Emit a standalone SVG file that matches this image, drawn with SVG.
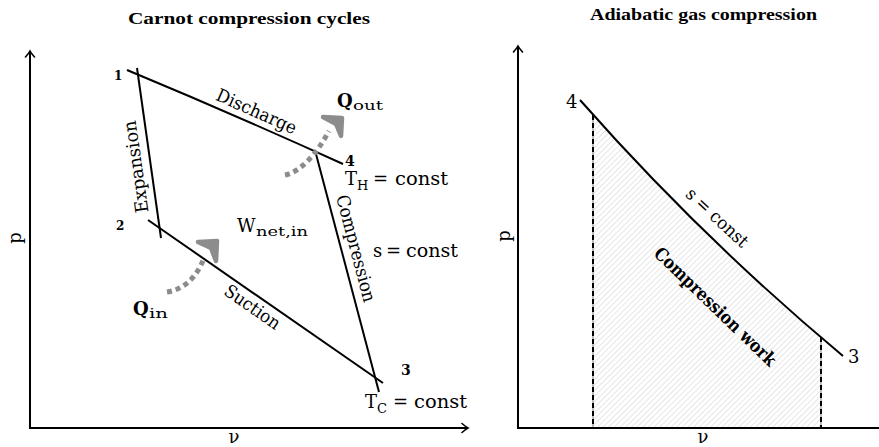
<svg xmlns="http://www.w3.org/2000/svg" width="879" height="447" viewBox="0 0 879 447">
<style>
text{font-family:"DejaVu Serif","Liberation Serif",serif;fill:#000}
.title{font-family:"Liberation Serif","DejaVu Serif",serif;font-weight:bold;font-size:17.5px}
.lbl{font-size:18px}
.sub{font-size:13px}
.num{font-weight:bold}
.axis{stroke:#000;stroke-width:2;fill:none}
.curve{stroke:#000;stroke-width:2;fill:none}
.heat{stroke:#8c8c8c;stroke-width:5;fill:none;stroke-dasharray:5 4}
.head{fill:#8c8c8c;stroke:#8c8c8c;stroke-width:4.5;stroke-linejoin:round}
.vd{stroke:#000;stroke-width:2;stroke-dasharray:5 3;fill:none}
.vg{stroke:#bdbdbd;stroke-width:2;fill:none}
</style>
<defs>
<marker id="ax" viewBox="-7 -6 9 12" markerWidth="9" markerHeight="12" refX="0" refY="0" orient="auto" markerUnits="userSpaceOnUse">
<path d="M-6,-4.5 Q-2,-1 0,0 Q-2,1 -6,4.5" fill="none" stroke="#000" stroke-width="1.6" stroke-linecap="round"/>
</marker>
<pattern id="hatch" patternUnits="userSpaceOnUse" width="4" height="4" patternTransform="rotate(45)">
<line x1="0" y1="0" x2="0" y2="4" stroke="#c8c8c8" stroke-width="0.9"/>
</pattern>
<clipPath id="under">
<path d="M580,100 Q701.7,238 843,356 L843,428 L580,428 Z"/>
</clipPath>
</defs>

<g id="left-plot">
<text class="title" x="128" y="24" textLength="242" lengthAdjust="spacingAndGlyphs">Carnot compression cycles</text>
<g id="left-axes">
<line class="axis" x1="30" y1="429" x2="30" y2="51" marker-end="url(#ax)"/>
<line class="axis" x1="29" y1="428" x2="468" y2="428" marker-end="url(#ax)"/>
<text class="lbl" transform="translate(21,238) rotate(-90)" text-anchor="middle">p</text>
<text class="lbl" x="234" y="443" text-anchor="middle">ν</text>
</g>
<g id="connectors">
<path id="discharge" class="curve" d="M127,70 Q233,114 343,164"/>
<path id="expansion" class="curve" d="M137,68 L161,238"/>
<path id="suction" class="curve" d="M148,220 L383,383"/>
<path id="compression" class="curve" d="M316,154 L379,392"/>
<path id="qin-arrow" class="heat" d="M167,292 C181,290 196,280 204,258"/>
<path class="head" d="M217,241 L198,242 L211,248 L216,261 Z"/>
<path id="qout-arrow" class="heat" d="M285,175 C300,172 316,155 329,131"/>
<path class="head" d="M342,118 L323,117 L336,124 L341,136 Z"/>
</g>
<g id="state-1"><text class="num" font-size="12" x="114" y="80">1</text></g>
<g id="state-2"><text class="num" font-size="12" x="116" y="230">2</text></g>
<g id="state-3"><text class="num" font-size="14" x="401" y="375">3</text></g>
<g id="state-4"><text class="num" font-size="14" x="345" y="166">4</text></g>
<g id="process-labels">
<text class="lbl" transform="translate(254,117) rotate(24)" text-anchor="middle" textLength="86" lengthAdjust="spacingAndGlyphs">Discharge</text>
<text class="lbl" transform="translate(142,166) rotate(-98)" text-anchor="middle" textLength="93" lengthAdjust="spacingAndGlyphs">Expansion</text>
<text class="lbl" transform="translate(350,250) rotate(75.2)" text-anchor="middle" textLength="110" lengthAdjust="spacingAndGlyphs">Compression</text>
<text class="lbl" transform="translate(249,312) rotate(34.7)" text-anchor="middle" textLength="64" lengthAdjust="spacingAndGlyphs">Suction</text>
</g>
<g id="quantities">
<text class="lbl" x="237" y="232">W</text>
<text class="sub" x="256" y="236" textLength="52" lengthAdjust="spacingAndGlyphs">net,in</text>
<text class="lbl" font-weight="bold" x="337" y="107">Q</text>
<text class="sub" x="353" y="110" textLength="30" lengthAdjust="spacingAndGlyphs">out</text>
<text class="lbl" font-weight="bold" x="133" y="315">Q</text>
<text class="sub" x="149" y="318" textLength="19" lengthAdjust="spacingAndGlyphs">in</text>
<text class="lbl" x="345" y="185">T</text>
<text class="sub" x="357" y="190">H</text>
<text class="lbl" x="373" y="185">=</text>
<text class="lbl" x="395" y="185" textLength="53" lengthAdjust="spacingAndGlyphs">const</text>
<text class="lbl" x="373" y="257">s</text>
<text class="lbl" x="386" y="257">=</text>
<text class="lbl" x="406" y="257" textLength="52" lengthAdjust="spacingAndGlyphs">const</text>
<text class="lbl" x="365" y="408">T</text>
<text class="sub" x="377" y="413">C</text>
<text class="lbl" x="393" y="408">=</text>
<text class="lbl" x="414" y="408" textLength="53" lengthAdjust="spacingAndGlyphs">const</text>
</g>
</g>

<g id="right-plot">
<text class="title" x="590" y="20" textLength="227" lengthAdjust="spacingAndGlyphs">Adiabatic gas compression</text>
<g id="work-area">
<rect x="593" y="100" width="228" height="328" fill="url(#hatch)" clip-path="url(#under)"/>
<line class="vg" x1="593" y1="115" x2="593" y2="428"/>
<line class="vd" x1="593" y1="115" x2="593" y2="428"/>
<line class="vg" x1="821" y1="337" x2="821" y2="428"/>
<line class="vd" x1="821" y1="337" x2="821" y2="428"/>
</g>
<g id="right-axes">
<line class="axis" x1="518" y1="429" x2="518" y2="46" marker-end="url(#ax)"/>
<line class="axis" x1="517" y1="428" x2="879" y2="428"/>
<text class="lbl" transform="translate(510,236) rotate(-90)" text-anchor="middle">p</text>
<text class="lbl" x="703" y="443" text-anchor="middle">ν</text>
</g>
<g id="adiabat">
<path class="curve" d="M580,100 Q701.7,238 843,356"/>
</g>
<g id="state-4r"><text class="lbl" font-size="16" x="566" y="108">4</text></g>
<g id="state-3r"><text class="lbl" font-size="16" x="848" y="363">3</text></g>
<text class="lbl" font-size="17" transform="translate(713,222) rotate(43)" text-anchor="middle" textLength="78" lengthAdjust="spacingAndGlyphs">s = const</text>
<text class="lbl" font-size="16" font-weight="bold" transform="translate(711,311) rotate(44)" text-anchor="middle" textLength="162" lengthAdjust="spacingAndGlyphs">Compression work</text>
</g>
</svg>
